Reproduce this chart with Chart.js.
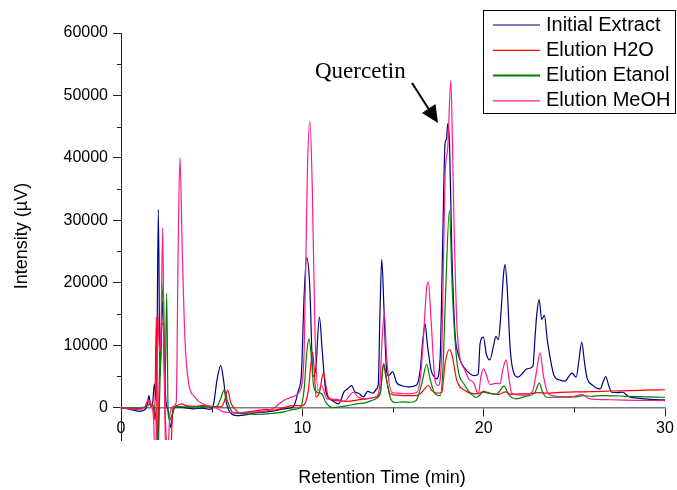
<!DOCTYPE html>
<html lang="en">
<head>
    <meta charset="UTF-8">
    <title>HPLC Chromatogram - Quercetin</title>
    <style>
        body { margin: 0; background: #fff; }
        #chart { display: block; }
    </style>
    <script src="https://cdn.jsdelivr.net/npm/chart.js"></script>
</head>
<body>
    <canvas id="chart" width="677" height="490"></canvas>

    <script>
        // [time (min), intensity (µV)]
        const initialExtract = [
            [0,0],[0.5,-300],[1.0,-600],[1.3,-400],[1.45,500],[1.54,1900],[1.65,200],[1.75,800],[1.84,3800],[1.95,1000],
            [2.06,31700],[2.15,5000],[2.3,17000],[2.45,2000],[2.6,-500],[2.75,-3200],[2.85,-1000],[3.0,100],[3.5,0],[4.0,-200],
            [4.5,-100],[4.9,-300],[5.1,500],[5.3,4500],[5.5,6700],[5.65,4500],[5.8,900],[6.0,-700],[6.4,-1300],[7.0,-1100],
            [7.5,-800],[8.0,-700],[8.5,-500],[9.0,-200],[9.5,100],[9.78,2700],[9.95,5500],[10.1,18000],[10.24,24100],[10.4,20000],
            [10.6,5000],[10.75,6500],[10.94,14500],[11.1,9000],[11.3,2500],[11.6,1200],[12.0,600],[12.3,2500],[12.5,3000],[12.72,3500],
            [12.9,2500],[13.1,2300],[13.37,1700],[13.6,2600],[13.9,2300],[14.1,3000],[14.19,3800],[14.28,15000],[14.38,23700],[14.5,16000],
            [14.62,7000],[14.75,5100],[14.98,5700],[15.2,4000],[15.5,3500],[15.9,3300],[16.3,3600],[16.5,6000],[16.65,11000],[16.77,13400],
            [16.9,10000],[17.1,6000],[17.3,4800],[17.41,4600],[17.6,8000],[17.75,28000],[17.87,42300],[17.95,43000],[18.02,45500],[18.12,42000],
            [18.24,25700],[18.42,11900],[18.6,8500],[18.79,7000],[19.1,5800],[19.5,5100],[19.7,5400],[19.8,10200],[19.98,11300],[20.15,8500],
            [20.35,7650],[20.55,10000],[20.68,11400],[20.81,10900],[20.95,15000],[21.1,21500],[21.18,22900],[21.3,19000],[21.45,10000],[21.55,7000],
            [21.9,4860],[22.15,5500],[22.38,6200],[22.71,6580],[22.85,12000],[22.93,15000],[23.06,17300],[23.2,14100],[23.35,14750],[23.5,11000],
            [23.66,8070],[23.88,5130],[24.2,4400],[24.49,4220],[24.7,5000],[24.86,5500],[25.1,4860],[25.25,7500],[25.41,10500],[25.55,7500],
            [25.69,4860],[26.0,3600],[26.42,3000],[26.6,4200],[26.73,4970],[26.9,3500],[27.06,2450],[27.4,2400],[27.67,2450],[27.98,1760],
            [28.5,1500],[29.2,1300],[30,1230]
        ];
        const elutionH2O = [
            [0,0],[0.5,-100],[1.0,-200],[1.3,0],[1.5,1100],[1.6,400],[1.75,600],[1.85,-2000],[1.95,14500],[2.02,-8000],
            [2.1,3000],[2.25,13500],[2.33,13100],[2.45,-2000],[2.62,-9000],[2.72,-9000],[2.85,-500],[3.0,200],[3.35,600],[3.6,300],
            [4.0,200],[4.5,300],[5.0,200],[5.5,100],[5.7,1000],[5.88,2800],[6.05,800],[6.3,-300],[6.6,-900],[7.0,-700],
            [7.5,-500],[8.0,-300],[8.5,-400],[9.0,0],[9.5,300],[10.0,300],[10.2,1000],[10.33,2700],[10.57,8870],[10.68,5000],
            [10.76,1650],[10.95,2500],[11.16,5500],[11.3,3500],[11.44,1650],[11.9,1100],[12.5,1000],[13.0,1200],[13.5,1400],[14.0,1650],
            [14.3,2500],[14.47,7000],[14.6,5000],[14.84,2200],[15.2,2000],[15.7,1900],[16.3,1900],[16.6,2500],[16.95,3530],[17.15,2700],
            [17.41,2300],[17.69,2450],[17.87,7000],[18.1,9300],[18.24,8600],[18.52,4330],[18.97,2730],[19.5,2200],[19.8,2300],[20.0,2600],
            [20.3,2300],[20.8,2100],[21.2,2500],[21.5,2100],[22.0,2200],[22.5,2200],[23.0,2400],[23.5,2300],[24.0,2400],[25.0,2500],
            [26.0,2550],[27.0,2650],[28.0,2700],[29.0,2780],[30.0,2850]
        ];
        const elutionEtanol = [
            [0,0],[0.5,-100],[1.0,-100],[1.4,200],[1.6,500],[1.8,300],[1.95,-3000],[2.03,-9000],[2.1,-2000],[2.2,10000],
            [2.33,20100],[2.42,2000],[2.52,18300],[2.6,-1000],[2.7,-2000],[2.8,-1300],[3.0,100],[3.5,100],[4.0,100],[4.5,200],
            [5.0,0],[5.3,200],[5.5,1500],[5.7,2830],[5.9,800],[6.1,-600],[6.3,-900],[7.0,-1000],[7.5,-1100],[8.0,-1000],
            [8.5,-900],[9.0,-700],[9.5,-300],[9.9,0],[10.1,3000],[10.25,9000],[10.37,11000],[10.5,8000],[10.62,3500],[10.8,2500],
            [11.07,2200],[11.3,800],[11.7,0],[12.0,100],[12.5,300],[13.0,600],[13.5,800],[13.8,1100],[14.1,1500],[14.29,2200],
            [14.5,7000],[14.65,4500],[14.84,1650],[15.1,800],[15.5,900],[16.0,850],[16.3,1200],[16.6,4000],[16.86,6900],[17.05,4500],
            [17.32,2200],[17.6,1900],[17.75,6000],[17.9,18200],[18.11,31600],[18.28,18200],[18.52,7540],[18.97,3530],[19.3,2200],[19.62,1650],
            [19.98,2450],[20.3,2300],[20.7,2100],[21.12,3420],[21.4,2000],[21.82,1390],[22.3,1800],[22.8,2300],[23.07,3900],[23.25,2500],
            [23.48,1650],[24.0,1650],[25.0,1700],[25.5,1900],[26.0,1800],[26.6,1920],[27.5,1850],[28.5,1750],[30.0,1650]
        ];
        const elutionMeOH = [
            [0,0],[0.5,-200],[1.0,-300],[1.3,0],[1.5,1200],[1.65,600],[1.8,-2000],[1.88,-9000],[1.96,-2000],[2.04,14700],
            [2.12,9000],[2.2,12000],[2.3,28800],[2.38,6000],[2.45,-6000],[2.55,-9000],[2.7,-1000],[2.9,200],[3.05,1000],[3.15,25000],
            [3.25,40000],[3.38,25000],[3.53,10700],[3.71,4330],[4.08,1650],[4.63,430],[5.2,0],[5.74,-750],[6.5,-800],[7.5,-700],
            [8.3,-300],[8.95,1100],[9.6,1900],[9.87,2700],[10.1,9000],[10.28,38000],[10.42,45900],[10.55,35000],[10.7,11800],[10.88,2700],
            [11.07,3530],[11.35,1390],[11.9,1300],[12.3,1000],[12.81,2450],[13.1,1600],[13.5,1400],[14.0,1650],[14.25,3000],[14.42,12000],
            [14.52,15100],[14.65,8000],[14.93,2450],[15.3,2300],[15.8,2200],[16.3,2400],[16.5,4500],[16.67,10700],[16.85,19000],[16.95,20100],
            [17.1,14000],[17.32,4330],[17.5,3530],[17.7,10000],[17.87,36900],[18.02,41700],[18.19,52400],[18.28,42000],[18.37,28900],[18.55,11800],
            [18.97,5930],[19.2,4500],[19.43,4060],[19.71,2200],[19.85,5000],[20.0,6200],[20.35,3690],[20.72,3900],[20.9,3800],[21.05,6000],
            [21.24,7650],[21.4,4500],[21.55,2300],[22.0,2000],[22.38,2040],[22.7,2600],[22.9,5500],[23.11,8770],[23.3,5000],[23.57,2200],
            [24.21,1760],[25.0,1800],[25.41,2090],[25.87,1390],[27.0,1250],[28.5,1150],[30.0,1120]
        ];

        const seriesNames = ['Initial Extract', 'Elution H2O', 'Elution Etanol', 'Elution MeOH'];
        const seriesColors = ['#000080', '#ff0000', '#008000', '#ff1a8c'];
        const xTicks = [0, 5, 10, 15, 20, 25, 30];
        const yTicks = [0, 5000, 10000, 15000, 20000, 25000, 30000, 35000, 40000, 45000, 50000, 55000, 60000];

        const FONT = '"Liberation Sans", Arial, sans-serif';

        function toPoints(arr) {
            return arr.map(p => ({ x: p[0], y: p[1] }));
        }

        const allSeries = [initialExtract, elutionH2O, elutionEtanol, elutionMeOH];
        // dataset 0 is drawn on top, so reverse to keep MeOH uppermost
        const datasets = allSeries.map((s, i) => ({
            label: seriesNames[i],
            data: toPoints(s),
            borderColor: seriesColors[i],
            borderWidth: 1.2,
            pointRadius: 0,
            fill: false,
            cubicInterpolationMode: 'monotone'
        })).reverse();

        // legend, minor ticks, axis titles and the Quercetin label
        const decor = {
            id: 'decor',
            afterDraw(chart) {
                const ctx = chart.ctx;
                const xs = chart.scales.x, ys = chart.scales.y;
                const zeroY = ys.getPixelForValue(0);
                const left = chart.chartArea.left;
                ctx.save();

                // minor ticks
                ctx.strokeStyle = '#222';
                ctx.lineWidth = 1;
                ctx.beginPath();
                yTicks.filter(v => v % 10000 !== 0).forEach(v => {
                    const py = Math.round(ys.getPixelForValue(v)) + 0.5;
                    ctx.moveTo(left - 4, py); ctx.lineTo(left, py);
                });
                xTicks.filter(v => v % 10 !== 0).forEach(v => {
                    const px = Math.round(xs.getPixelForValue(v)) + 0.5;
                    ctx.moveTo(px, zeroY); ctx.lineTo(px, zeroY + 5);
                });
                ctx.stroke();

                // axis titles
                ctx.fillStyle = '#000';
                ctx.font = '18px ' + FONT;
                ctx.textAlign = 'center';
                ctx.textBaseline = 'middle';
                ctx.fillText('Retention Time (min)', 382, 478);
                ctx.save();
                ctx.translate(22, 236);
                ctx.rotate(-Math.PI / 2);
                ctx.fillText('Intensity (µV)', 0, 0);
                ctx.restore();

                // Quercetin annotation
                ctx.font = '23px "Liberation Serif", "Times New Roman", serif';
                ctx.textAlign = 'left';
                ctx.fillText('Quercetin', 315, 72);
                ctx.strokeStyle = '#000';
                ctx.lineWidth = 2;
                ctx.beginPath();
                ctx.moveTo(412, 83);
                ctx.lineTo(430, 111);
                ctx.stroke();
                ctx.beginPath();
                ctx.moveTo(438, 123);
                ctx.lineTo(422, 113);
                ctx.lineTo(435.5, 104);
                ctx.closePath();
                ctx.fillStyle = '#000';
                ctx.fill();

                // legend box
                ctx.fillStyle = '#fff';
                ctx.fillRect(483, 10, 193, 103);
                ctx.strokeStyle = '#000';
                ctx.lineWidth = 1;
                ctx.strokeRect(483.5, 10.5, 192, 103);
                ctx.font = '20px ' + FONT;
                ctx.textBaseline = 'middle';
                seriesNames.forEach((name, i) => {
                    const ly = 25 + i * 25.3;
                    ctx.strokeStyle = seriesColors[i];
                    ctx.lineWidth = i === 2 ? 2 : 1.2;
                    ctx.beginPath();
                    ctx.moveTo(493, ly);
                    ctx.lineTo(540, ly);
                    ctx.stroke();
                    ctx.fillStyle = '#000';
                    ctx.fillText(name, 546, ly);
                });

                ctx.restore();
            }
        };

        new Chart(document.getElementById('chart'), {
            type: 'line',
            data: { datasets: datasets },
            options: {
                responsive: false,
                animation: false,
                layout: { padding: { left: 0, top: 33, right: 12, bottom: 50 } },
                plugins: {
                    legend: { display: false },
                    tooltip: { enabled: false }
                },
                scales: {
                    x: {
                        type: 'linear',
                        min: 0,
                        max: 30,
                        position: { y: 0 },
                        afterBuildTicks: scale => { scale.ticks = xTicks.map(v => ({ value: v })); },
                        afterFit: scale => { scale.height = 0; },
                        grid: {
                            drawOnChartArea: false,
                            drawTicks: true,
                            tickLength: 8,
                            tickColor: c => (c.tick && c.tick.value % 10 === 0) ? '#222' : 'rgba(0,0,0,0)'
                        },
                        border: { display: true, color: '#7a7a7a', width: 1.5 },
                        ticks: {
                            padding: 3,
                            maxRotation: 0,
                            autoSkip: false,
                            color: '#000',
                            font: { family: FONT, size: 16 },
                            callback: v => (v % 10 === 0 ? String(v) : '')
                        }
                    },
                    y: {
                        min: -5200,
                        max: 60000,
                        afterBuildTicks: scale => { scale.ticks = yTicks.map(v => ({ value: v })); },
                        afterFit: scale => { scale.width = 121; },
                        grid: {
                            drawOnChartArea: false,
                            drawTicks: true,
                            tickLength: 8,
                            tickColor: c => (c.tick && c.tick.value % 10000 === 0) ? '#222' : 'rgba(0,0,0,0)'
                        },
                        border: { display: true, color: '#222', width: 1 },
                        ticks: {
                            padding: 5,
                            autoSkip: false,
                            color: '#000',
                            font: { family: FONT, size: 16 },
                            callback: v => (v % 10000 === 0 ? String(v) : '')
                        }
                    }
                }
            },
            plugins: [decor]
        });
    </script>
</body>
</html>
